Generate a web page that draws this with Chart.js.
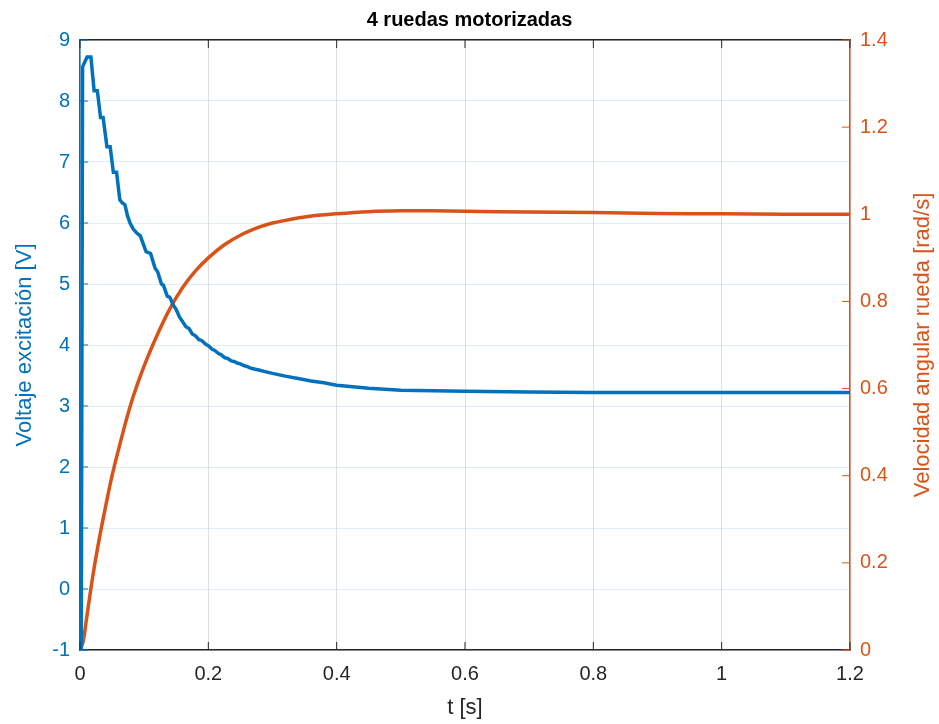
<!DOCTYPE html>
<html>
<head>
<meta charset="utf-8">
<script src="https://cdn.jsdelivr.net/npm/chart.js@4.4.1/dist/chart.umd.min.js"></script>
<style>
  html, body { margin: 0; padding: 0; background: #fff; }
  #wrap { width: 939px; height: 724px; }
</style>
</head>
<body>
<div id="wrap"><canvas id="grafico"></canvas></div>
<script>
// tiempo [s] y voltaje [V]
const tVoltaje = [0, 0.002, 0.004, 0.008, 0.011, 0.017, 0.022, 0.027, 0.032, 0.036, 0.042, 0.047, 0.052, 0.057,
  0.062, 0.066, 0.07, 0.074, 0.078, 0.083, 0.088, 0.094, 0.103, 0.11, 0.117, 0.121, 0.127, 0.13, 0.136, 0.14,
  0.145, 0.15, 0.155, 0.16, 0.165, 0.17, 0.175, 0.18, 0.185, 0.19, 0.196, 0.2, 0.206, 0.21, 0.216, 0.22, 0.226,
  0.23, 0.236, 0.24, 0.246, 0.25, 0.256, 0.26, 0.266, 0.27, 0.28, 0.29, 0.3, 0.32, 0.34, 0.36, 0.38, 0.4, 0.45,
  0.5, 0.6, 0.7, 0.8, 0.9, 1.0, 1.1, 1.2];
const voltaje = [-1, -1, 8.56, 8.65, 8.72, 8.72, 8.17, 8.17, 7.73, 7.73, 7.25, 7.25, 6.83, 6.83,
  6.38, 6.33, 6.30, 6.12, 6.0, 5.9, 5.84, 5.79, 5.53, 5.5, 5.26, 5.2, 5.0, 4.98, 4.80, 4.78,
  4.66, 4.58, 4.46, 4.38, 4.30, 4.27, 4.18, 4.15, 4.09, 4.07, 4.01, 3.99, 3.93, 3.91, 3.86, 3.84, 3.79,
  3.78, 3.74, 3.73, 3.70, 3.69, 3.66, 3.65, 3.62, 3.61, 3.585, 3.56, 3.535, 3.49, 3.45, 3.41, 3.38, 3.34, 3.29,
  3.26, 3.24, 3.23, 3.22, 3.22, 3.22, 3.22, 3.22];

// tiempo [s] y velocidad angular [rad/s]
const tVelocidad = [0, 0.005, 0.01, 0.02, 0.03, 0.04, 0.05, 0.06, 0.08, 0.1, 0.12, 0.14, 0.16, 0.18, 0.2,
  0.225, 0.25, 0.28, 0.3, 0.35, 0.4, 0.45, 0.5, 0.55, 0.6, 0.7, 0.8, 0.9, 1.0, 1.1, 1.2];
const velocidad = [0, 0.02, 0.07, 0.17, 0.255, 0.33, 0.40, 0.46, 0.568, 0.652, 0.722, 0.783, 0.832, 0.870, 0.900,
  0.930, 0.952, 0.971, 0.980, 0.994, 1.001, 1.006, 1.008, 1.008, 1.007, 1.005, 1.004, 1.002, 1.001, 1.0, 1.0];

const AZUL = '#0072BD';
const NARANJA = '#D95319';
const GRIS = '#262626';
const FUENTE = 'Liberation Sans, Arial, Helvetica, sans-serif';
const TITULO_DERECHA = 'Velocidad angular rueda [rad/s]';

const puntos = (xs, ys) => xs.map((x, i) => ({ x: x, y: ys[i] }));
const formato = (v) => String(parseFloat(Number(v).toFixed(2)));

// marcas de eje hacia dentro (estilo MATLAB) y titulo derecho girado
const marcasPlugin = {
    id: 'marcas',
    afterDraw(chart) {
        const c = chart.ctx;
        const a = chart.chartArea;
        const L = 8;
        c.save();
        c.lineWidth = 1;
        c.strokeStyle = GRIS;
        chart.scales.x.ticks.forEach((t) => {
            const px = chart.scales.x.getPixelForValue(t.value);
            c.beginPath();
            c.moveTo(px, a.bottom); c.lineTo(px, a.bottom - L);
            c.moveTo(px, a.top); c.lineTo(px, a.top + L);
            c.stroke();
        });
        c.strokeStyle = AZUL;
        chart.scales.y.ticks.forEach((t) => {
            const py = chart.scales.y.getPixelForValue(t.value);
            c.beginPath(); c.moveTo(a.left, py); c.lineTo(a.left + L, py); c.stroke();
        });
        c.strokeStyle = NARANJA;
        chart.scales.y1.ticks.forEach((t) => {
            const py = chart.scales.y1.getPixelForValue(t.value);
            c.beginPath(); c.moveTo(a.right, py); c.lineTo(a.right - L, py); c.stroke();
        });
        c.translate(chart.scales.y1.right - 16, (a.top + a.bottom) / 2);
        c.rotate(-Math.PI / 2);
        c.fillStyle = NARANJA;
        c.font = '22px ' + FUENTE;
        c.textAlign = 'center';
        c.textBaseline = 'middle';
        c.fillText(TITULO_DERECHA, 0, 0);
        c.restore();
    }
};

const ctx = document.getElementById('grafico').getContext('2d');
const grafico = new Chart(ctx, {
    type: 'line',
    data: {
        datasets: [
            {
                label: 'Voltaje',
                data: puntos(tVoltaje, voltaje),
                borderColor: AZUL,
                borderWidth: 3.5,
                pointRadius: 0,
                tension: 0,
                yAxisID: 'y'
            },
            {
                label: 'Velocidad',
                data: puntos(tVelocidad, velocidad),
                borderColor: NARANJA,
                borderWidth: 3.5,
                pointRadius: 0,
                tension: 0.4,
                yAxisID: 'y1'
            }
        ]
    },
    plugins: [marcasPlugin],
    options: {
        responsive: true,
        maintainAspectRatio: false,
        animation: false,
        layout: { padding: 0 },
        plugins: {
            legend: { display: false },
            tooltip: { enabled: false },
            title: {
                display: true,
                text: '4 ruedas motorizadas',
                color: '#000',
                font: { family: FUENTE, size: 20, weight: 'bold', lineHeight: 1.2 },
                padding: { top: 8, bottom: 8 }
            }
        },
        scales: {
            x: {
                type: 'linear',
                min: 0,
                max: 1.2,
                ticks: { stepSize: 0.2, color: GRIS, font: { family: FUENTE, size: 20 }, padding: 12, maxRotation: 0, callback: formato },
                grid: { color: 'rgba(38,38,38,0.15)', drawTicks: false },
                border: { color: GRIS, width: 1.5 },
                title: { display: true, text: 't [s]', color: GRIS, font: { family: FUENTE, size: 22 }, padding: { bottom: 3 } },
                afterFit: (s) => { s.height = 74; }
            },
            x2: {
                type: 'linear',
                position: 'top',
                min: 0,
                max: 1.2,
                ticks: { display: false },
                grid: { display: false, drawTicks: false },
                border: { color: GRIS, width: 1.5 },
                afterFit: (s) => { s.height = 0; }
            },
            y: {
                position: 'left',
                min: -1,
                max: 9,
                ticks: { stepSize: 1, color: AZUL, font: { family: FUENTE, size: 20 }, padding: 10, callback: formato },
                grid: { color: 'rgba(0,114,189,0.12)', drawTicks: false },
                border: { color: AZUL, width: 1.5 },
                title: { display: true, text: 'Voltaje excitación [V]', color: AZUL, font: { family: FUENTE, size: 22 }, padding: { top: 12 } },
                afterFit: (s) => { s.width = 80; }
            },
            y1: {
                position: 'right',
                min: 0,
                max: 1.4,
                ticks: { stepSize: 0.2, color: NARANJA, font: { family: FUENTE, size: 20 }, padding: 10, callback: formato },
                grid: { display: false, drawTicks: false },
                border: { color: NARANJA, width: 1.5 },
                afterFit: (s) => { s.width = 89; }
            }
        }
    }
});
</script>
</body>
</html>
